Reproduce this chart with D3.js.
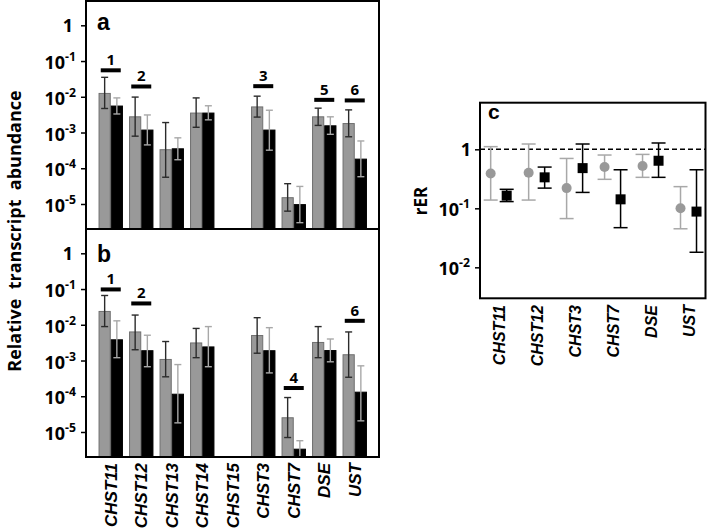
<!DOCTYPE html>
<html><head><meta charset="utf-8">
<script src="https://cdn.jsdelivr.net/npm/d3@7"></script>
<style>
body{margin:0;background:#fff;}
svg{display:block;}
.tk{font-family:"Open Sans",sans-serif;font-weight:700;fill:#000;}
.xl{font-family:"Liberation Sans",Arial,sans-serif;font-weight:700;font-style:italic;fill:#000;}
</style>
</head><body>
<svg id="chart" width="709" height="529"></svg>
<script>
// ---------- DATA ----------
const genes = ["CHST11","CHST12","CHST13","CHST14","CHST15","CHST3","CHST7","DSE","UST"];
// panel a
const aGrey      = [1.24e-2, 2.75e-3, 3.3e-4, 3.5e-3, null, 5.2e-3, 1.5e-5, 2.75e-3, 1.78e-3];
const aGreyHi    = [3.5e-2, 9.8e-3, 1.9e-3, 9.3e-3, null, 1.04e-2, 3.7e-5, 4.8e-3, 4.3e-3];
const aGreyLo    = [4.7e-3, 7.9e-4, 5.6e-5, 1.4e-3, null, 2.7e-3, 6.3e-6, 1.58e-3, 7.6e-4];
const aBlack     = [5.5e-3, 1.17e-3, 3.5e-4, 3.5e-3, null, 1.17e-3, 9.6e-6, 1.54e-3, 1.8e-4];
const aBlackHi   = [9.3e-3, 3.1e-3, 7.1e-4, 5.6e-3, null, 4.2e-3, 3.1e-5, 2.75e-3, 5.8e-4];
const aBlackLo   = [3.3e-3, 4.5e-4, 1.73e-4, 2.26e-3, null, 3.2e-4, 3.0e-6, 8.9e-4, 5.8e-5];
const aSigGene   = ["CHST11","CHST12","CHST3","DSE","UST"];
const aSigLabel  = ["1","2","3","5","6"];
const aSigLevel  = [0.055, 0.0194, 0.0198, 0.0082, 0.0079];
// panel b
const bGrey      = [2.36e-2, 6.3e-3, 1.07e-3, 3.1e-3, null, 5.0e-3, 2.5e-5, 3.2e-3, 1.45e-3];
const bGreyHi    = [6.6e-2, 1.87e-2, 3.4e-3, 7.9e-3, null, 1.58e-2, 9.2e-5, 8.9e-3, 6.3e-3];
const bGreyLo    = [8.9e-3, 2.0e-3, 3.5e-4, 1.2e-3, null, 1.6e-3, 7.0e-6, 1.2e-3, 3.4e-4];
const bBlack     = [3.8e-3, 1.88e-3, 1.14e-4, 2.4e-3, null, 1.88e-3, 3.3e-6, 1.9e-3, 1.3e-4];
const bBlackHi   = [1.29e-2, 5.1e-3, 7.7e-4, 8.9e-3, null, 8.3e-3, 5.7e-6, 4.0e-3, 7.1e-4];
const bBlackLo   = [1.2e-3, 6.7e-4, 1.8e-5, 6.7e-4, null, 4.5e-4, 2.0e-6, 9.2e-4, 2.05e-5];
const bSigGene   = ["CHST11","CHST12","CHST7","UST"];
const bSigLabel  = ["1","2","4","6"];
const bSigLevel  = [0.0975, 0.0395, 1.7e-4, 0.0129];
// shared y ticks for a and b
const abTickExp  = [0, -1, -2, -3, -4, -5];
// panel c
const cGenes     = ["CHST11","CHST12","CHST3","CHST7","DSE","UST"];
const cGrey      = [0.39, 0.40, 0.22, 0.50, 0.52, 0.100];
const cGreyHi    = [1.11, 1.23, 0.70, 0.80, 0.82, 0.233];
const cGreyLo    = [0.138, 0.138, 0.067, 0.31, 0.335, 0.045];
const cBlack     = [0.164, 0.335, 0.48, 0.142, 0.64, 0.088];
const cBlackHi   = [0.21, 0.50, 1.23, 0.45, 1.28, 0.45];
const cBlackLo   = [0.13, 0.22, 0.186, 0.047, 0.335, 0.018];
const cTickExp   = [0, -1, -2];
const cRefLine   = 1;

// ---------- DRAW ----------
const svg = d3.select("#chart");
const GREY = "#999999", GREY_STROKE = "#6f6f6f";

function tickLabel(g, x, y, exp, fs) {
  const t = g.append("text").attr("class","tk").attr("x",x).attr("y",y)
    .attr("text-anchor","end").attr("dominant-baseline","central").style("font-size",fs+"px");
  if (exp === 0) { t.text("1"); }
  else {
    t.append("tspan").text("10");
    t.append("tspan").attr("dy",-6).style("font-size",(fs*0.68)+"px").text(String(exp));
  }
}

function drawPanel(cfg) {
  const {top,bottom,left,right,grey,greyHi,greyLo,black,blackHi,blackLo,sigGene,sigLabel,sigLevel,letter,letterY} = cfg;
  const y = d3.scaleLog().domain([Math.pow(10,-5.7), Math.pow(10,0.68)]).range([bottom, top]);
  const x = d3.scaleBand().domain(genes).range([95.5, 370]).paddingInner(0.2).paddingOuter(0.1);
  const sub = d3.scaleBand().domain(["g","k"]).range([0, x.bandwidth()]);
  const g = svg.append("g");
  const yMin = y.domain()[0];

  genes.forEach((gn,i) => {
    [["g",grey,greyHi,greyLo],["k",black,blackHi,blackLo]].forEach(([s,v,hi,lo]) => {
      if (v[i] == null) return;
      const x0 = x(gn) + sub(s);
      g.append("rect").attr("x", x0+0.5).attr("y", y(v[i]))
        .attr("width", sub.bandwidth()-1).attr("height", bottom - y(v[i]))
        .attr("fill", s==="g" ? GREY : "#000")
        .attr("stroke", s==="g" ? GREY_STROKE : "#000").attr("stroke-width",1);
      const cx = x0 + sub.bandwidth()/2;
      const col = s==="g" ? "#2b2b2b" : "#a8a8a8";
      const yh = y(hi[i]), yl = y(Math.max(lo[i], yMin));
      g.append("line").attr("x1",cx).attr("x2",cx).attr("y1",yh).attr("y2",yl)
        .attr("stroke",col).attr("stroke-width",1.4);
      g.append("line").attr("x1",cx-3.5).attr("x2",cx+3.5).attr("y1",yh).attr("y2",yh)
        .attr("stroke",col).attr("stroke-width",1.4);
      if (lo[i] > yMin)
        g.append("line").attr("x1",cx-3.5).attr("x2",cx+3.5).attr("y1",yl).attr("y2",yl)
          .attr("stroke",col).attr("stroke-width",1.4);
    });
  });

  sigGene.forEach((gn,i) => {
    const cx = x(gn) + x.bandwidth()/2;
    const yy = y(sigLevel[i]);
    g.append("rect").attr("x", cx-10).attr("y", yy-2).attr("width",20).attr("height",4).attr("fill","#000");
    g.append("text").attr("class","tk").attr("x",cx).attr("y",yy-5)
      .attr("text-anchor","middle").style("font-size","15px").text(sigLabel[i]);
  });

  g.append("rect").attr("x",left).attr("y",top).attr("width",right-left).attr("height",bottom-top)
    .attr("fill","none").attr("stroke","#000").attr("stroke-width",2);

  const ax = g.append("g").attr("transform",`translate(${left},0)`)
    .call(d3.axisLeft(y).tickValues(abTickExp.map(e=>Math.pow(10,e))).tickSize(5).tickFormat(""));
  ax.select(".domain").remove();
  ax.selectAll(".tick line").attr("stroke","#000").attr("stroke-width",1.5);
  abTickExp.forEach(e => tickLabel(g, e===0 ? 73 : 76, y(Math.pow(10,e)) + (e===0?0:1), e, 18));

  g.append("text").attr("x",97).attr("y",letterY)
    .style("font-family","Liberation Sans,Arial,sans-serif").style("font-weight","700")
    .style("font-size","23px").text(letter);
  return x;
}

drawPanel({top:1,bottom:229,left:86,right:379,grey:aGrey,greyHi:aGreyHi,greyLo:aGreyLo,
  black:aBlack,blackHi:aBlackHi,blackLo:aBlackLo,sigGene:aSigGene,sigLabel:aSigLabel,sigLevel:aSigLevel,letter:"a",letterY:30});
const xb = drawPanel({top:229,bottom:457,left:86,right:379,grey:bGrey,greyHi:bGreyHi,greyLo:bGreyLo,
  black:bBlack,blackHi:bBlackHi,blackLo:bBlackLo,sigGene:bSigGene,sigLabel:bSigLabel,sigLevel:bSigLevel,letter:"b",letterY:262});

genes.forEach(gn => {
  const cx = xb(gn) + xb.bandwidth()/2;
  svg.append("text").attr("class","xl").attr("text-anchor","end")
    .attr("transform",`translate(${cx+6},463) rotate(-90)`)
    .style("font-size","17px").text(gn);
});

svg.append("text").attr("transform","translate(21,231) rotate(-90)").attr("text-anchor","middle")
  .style("font-family","Open Sans,sans-serif").style("font-weight","700").style("font-size","18px")
  .attr("xml:space","preserve").style("white-space","pre")
  .text("Relative  transcript  abundance");

// ---------- Panel c ----------
(function(){
  const top = 102.7, bottom = 298.3, left = 480, right = 705.5;
  const y = d3.scaleLog().domain([Math.pow(10,-2.525), Math.pow(10,0.79)]).range([bottom, top]);
  const x = d3.scaleBand().domain(cGenes).range([479.7, 707.5]);
  const g = svg.append("g");
  g.append("line").attr("x1",left).attr("x2",right).attr("y1",y(cRefLine)).attr("y2",y(cRefLine))
    .attr("stroke","#000").attr("stroke-width",1.4).attr("stroke-dasharray","5,3");
  cGenes.forEach((gn,i) => {
    const c = x(gn) + x.bandwidth()/2;
    [[-8,cGrey,cGreyHi,cGreyLo,"#a8a8a8"],[8,cBlack,cBlackHi,cBlackLo,"#000"]].forEach(([off,v,hi,lo,col],k) => {
      const cx = c + off;
      const yh = y(hi[i]), yl = y(lo[i]);
      g.append("line").attr("x1",cx).attr("x2",cx).attr("y1",yh).attr("y2",yl).attr("stroke",col).attr("stroke-width",1.5);
      [yh,yl].forEach(yy => g.append("line").attr("x1",cx-7).attr("x2",cx+7).attr("y1",yy).attr("y2",yy)
        .attr("stroke",col).attr("stroke-width",1.5));
      if (k === 0) g.append("circle").attr("cx",cx).attr("cy",y(v[i])).attr("r",5).attr("fill",GREY);
      else g.append("rect").attr("x",cx-5).attr("y",y(v[i])-5).attr("width",10).attr("height",10).attr("fill","#000");
    });
    g.append("text").attr("class","xl").attr("text-anchor","end")
      .attr("transform",`translate(${c+6},305) rotate(-90)`)
      .style("font-size","16px").text(gn);
  });
  g.append("rect").attr("x",left).attr("y",top).attr("width",right-left).attr("height",bottom-top)
    .attr("fill","none").attr("stroke","#000").attr("stroke-width",2);
  const ax = g.append("g").attr("transform",`translate(${left},0)`)
    .call(d3.axisLeft(y).tickValues(cTickExp.map(e=>Math.pow(10,e))).tickSize(5).tickFormat(""));
  ax.select(".domain").remove();
  ax.selectAll(".tick line").attr("stroke","#000").attr("stroke-width",1.5);
  cTickExp.forEach(e => tickLabel(g, e===0 ? 471 : 470, y(Math.pow(10,e)) + (e===0?0:1), e, 18));
  g.append("text").attr("x",488).attr("y",119)
    .style("font-family","Liberation Sans,Arial,sans-serif").style("font-weight","700")
    .style("font-size","21px").text("c");
  g.append("text").attr("transform","translate(427,201) rotate(-90)").attr("text-anchor","middle")
    .style("font-family","Open Sans,sans-serif").style("font-weight","700").style("font-size","17px")
    .text("rER");
})();
</script>
</body></html>
